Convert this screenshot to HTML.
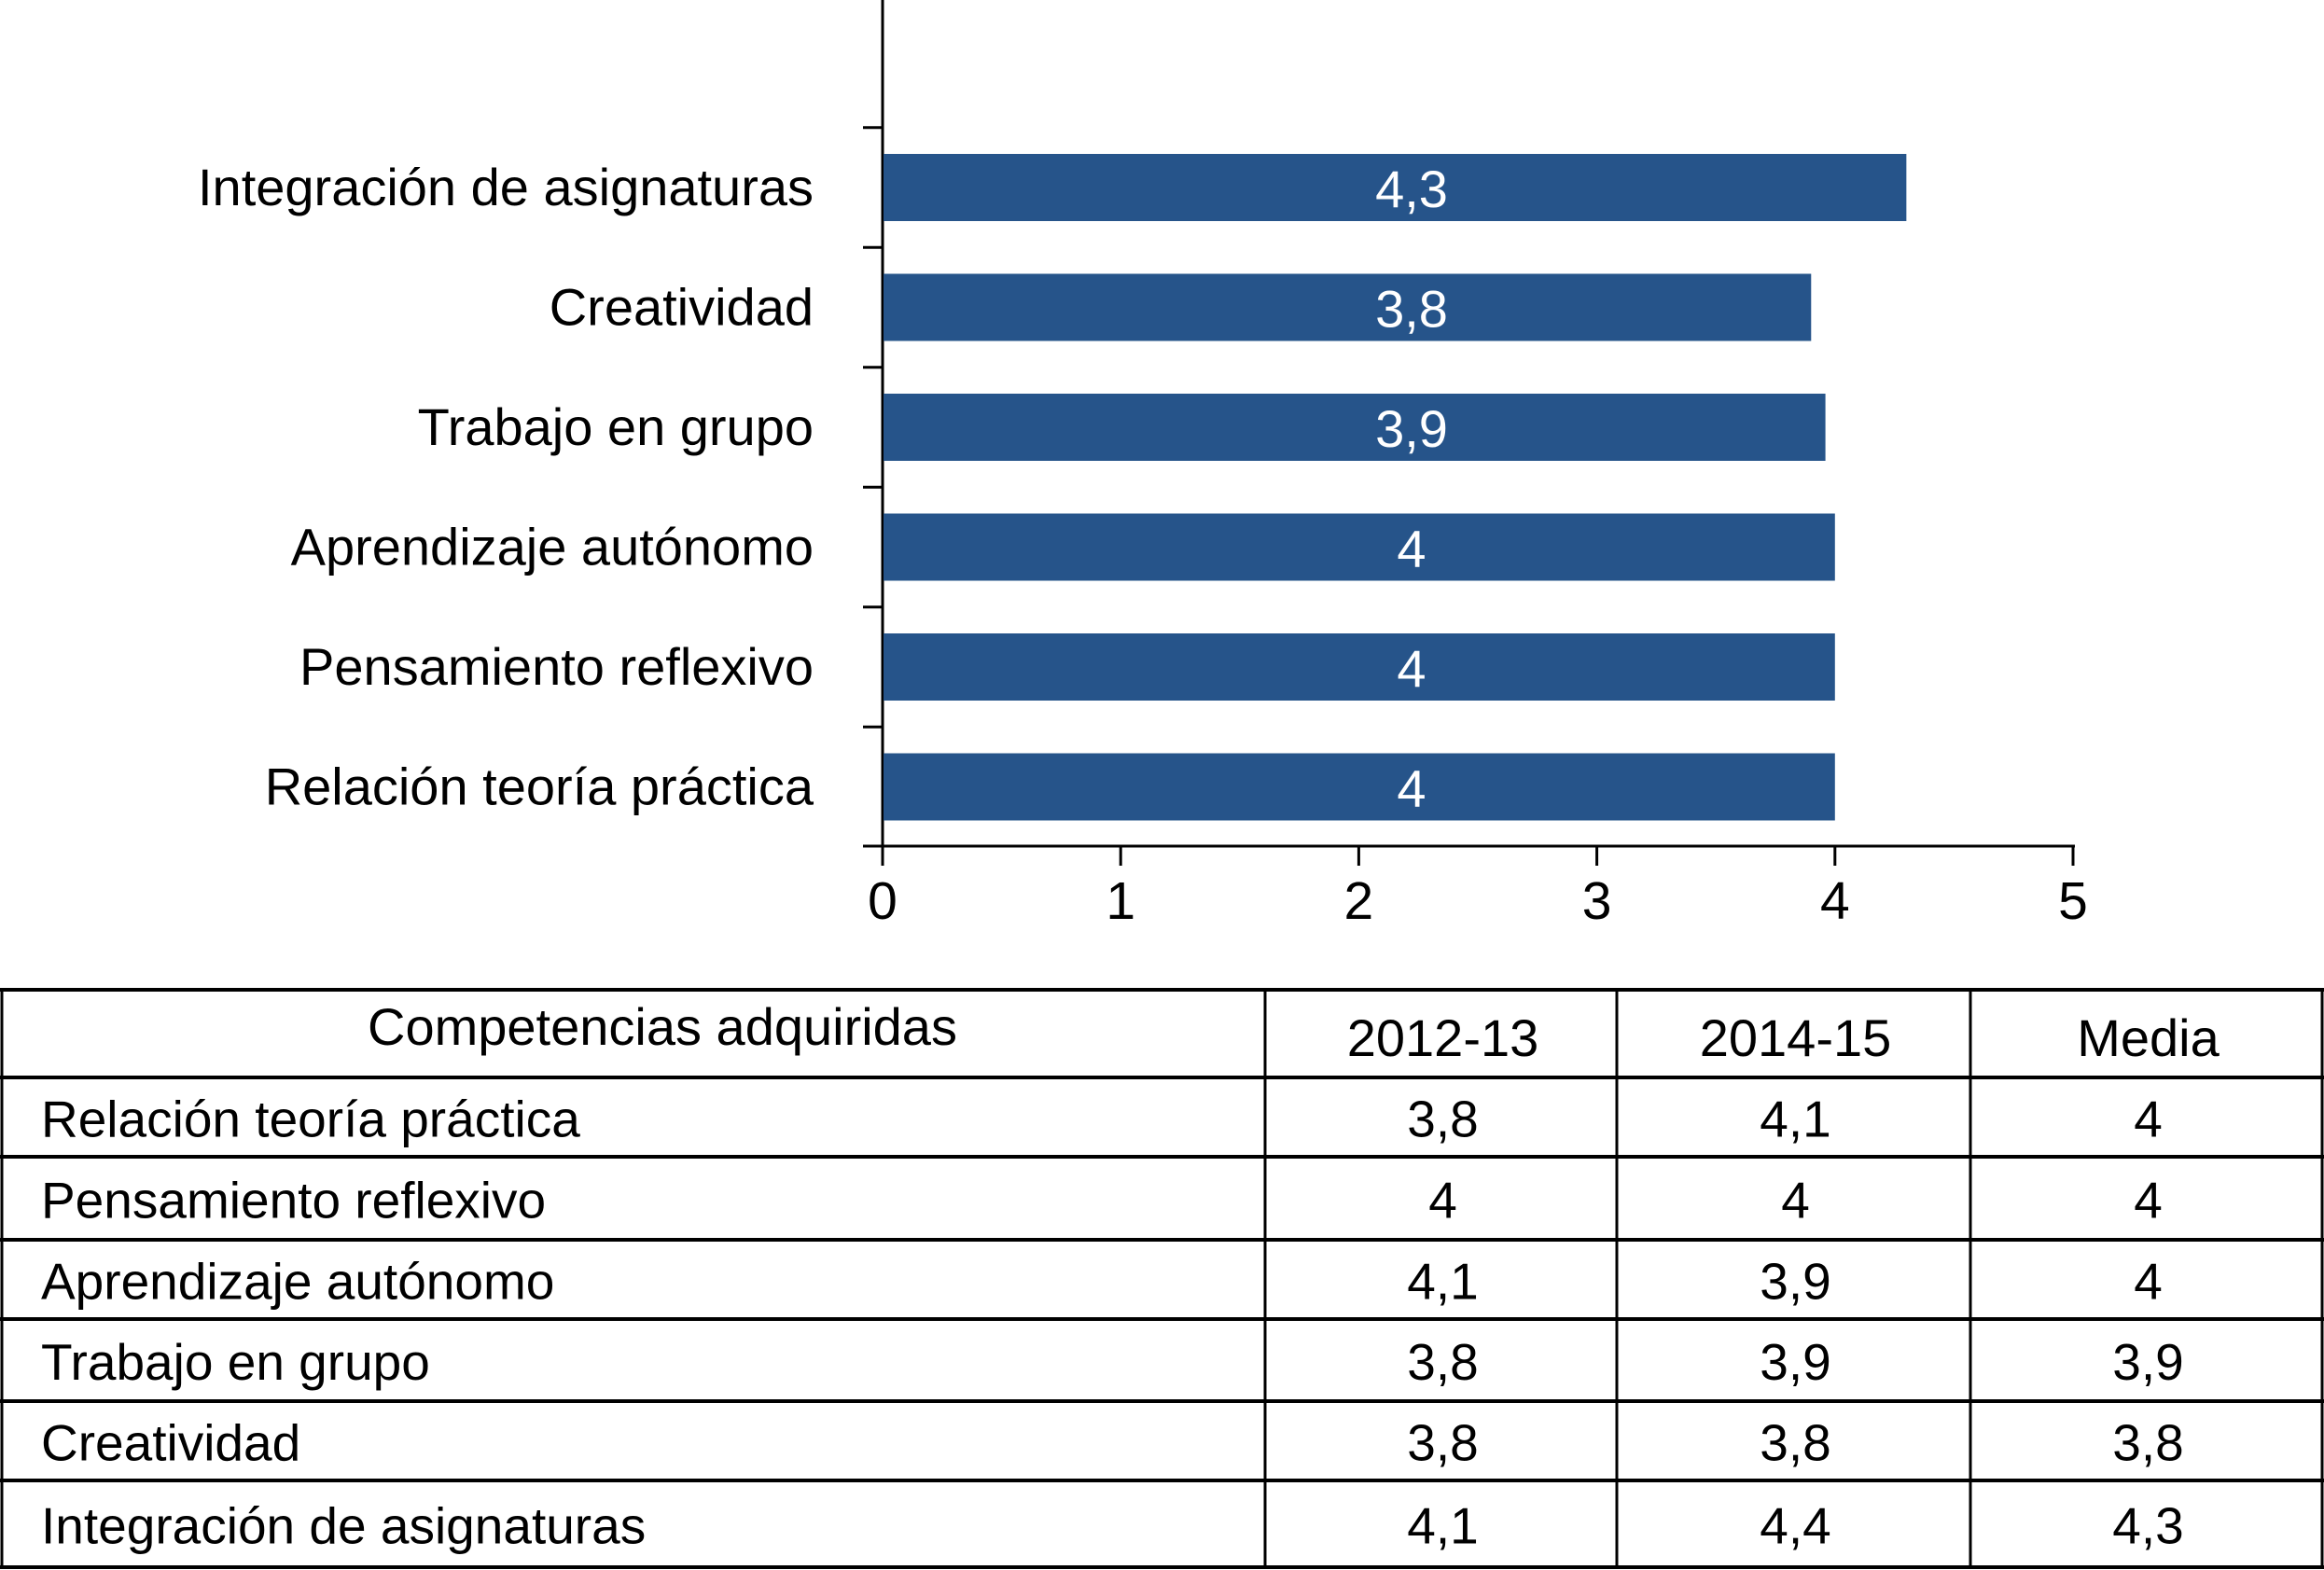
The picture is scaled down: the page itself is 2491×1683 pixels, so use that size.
<!DOCTYPE html>
<html><head><meta charset="utf-8"><style>
html,body{margin:0;padding:0;background:#fff;}
svg{display:block;font-family:"Liberation Sans",Arial,sans-serif;}
</style></head><body>
<svg id="chart" width="2491" height="1683" viewBox="0 0 2491 1683" xmlns="http://www.w3.org/2000/svg">
<g id="bars"></g>
<g id="table"></g>
</svg>
<script>
const categories = ["Integración de asignaturas","Creatividad","Trabajo en grupo","Aprendizaje autónomo","Pensamiento reflexivo","Relación teoría práctica"];
const mediaValues = [4.3, 3.9, 3.96, 4.0, 4.0, 4.0];
const valueLabels = ["4,3","3,8","3,9","4","4","4"];
const xTicks = [0,1,2,3,4,5];

const tableRows = ["Relación teoría práctica","Pensamiento reflexivo","Aprendizaje autónomo","Trabajo en grupo","Creatividad","Integración de asignaturas"];
const col2012 = ["3,8","4","4,1","3,8","3,8","4,1"];
const col2014 = ["4,1","4","3,9","3,9","3,8","4,4"];
const colMedia = ["4","4","4","3,9","3,8","4,3"];

const NS = "http://www.w3.org/2000/svg";
function mk(tag, attrs, parent, text){
  const e = document.createElementNS(NS, tag);
  for (const k in attrs) e.setAttribute(k, attrs[k]);
  if (text !== undefined) e.textContent = text;
  parent.appendChild(e);
  return e;
}
const X0 = 946, X5 = 2222;
const xScale = v => X0 + (X5 - X0) * v / 5;
const bandTop = 165, bandStep = 128.5, barH = 72;
const yCenter = i => bandTop + barH/2 + i * bandStep;

const gB = document.getElementById('bars');
let ax = mk('line',{x1:X0,y1:0,x2:X0,y2:907,stroke:'#000','stroke-width':3},gB);


ax = mk('line',{x1:925,y1:907,x2:X5+2,y2:907,stroke:'#000','stroke-width':3},gB);


for (let i = 0; i <= categories.length; i++) {
  const y = i === categories.length ? 907 : yCenter(i) - bandStep/2;
  const t = mk('line',{x1:925,y1:y,x2:X0,y2:y,stroke:'#000','stroke-width':3},gB);
  
  
}
xTicks.forEach(v => {
  const x = xScale(v);
  const t = mk('line',{x1:x,y1:907,x2:x,y2:928,stroke:'#000','stroke-width':3},gB);
  
  
  const l = mk('text',{x:x,y:985,'font-size':57,'text-anchor':'middle',fill:'#000'},gB,String(v));
  
  
});
categories.forEach((c,i) => {
  const cy = yCenter(i);
  const r = mk('rect',{x:X0+1,y:cy-barH/2,width:xScale(mediaValues[i])-X0-1,height:barH,fill:'#26548a'},gB);
  
  
  const v = mk('text',{x:1513,y:cy+21,'font-size':56,'text-anchor':'middle',fill:'#fff'},gB,valueLabels[i]);
  
  
  const l = mk('text',{x:872,y:cy+19,'font-size':56,'text-anchor':'end',fill:'#000'},gB,c);
  
  
});

const gT = document.getElementById('table');
const rowY = [1061,1155,1240,1329,1414,1502,1587,1680];
const colX = [2,1356,1733,2112,2489];
rowY.forEach(y => {
  const ln = mk('line',{x1:0,y1:y,x2:2491,y2:y,stroke:'#000','stroke-width':4},gT);
  
  
});
colX.forEach(x => {
  const ln = mk('line',{x1:x,y1:1061,x2:x,y2:1680,stroke:'#000','stroke-width':3},gT);
  
  
});
const colC = [(colX[1]+colX[2])/2,(colX[2]+colX[3])/2,(colX[3]+colX[4])/2];
let h = mk('text',{x:710,y:1120,'font-size':56,'text-anchor':'middle'},gT,'Competencias adquiridas');


["2012-13","2014-15","Media"].forEach((t,j) => {
  const e = mk('text',{x:colC[j]+2,y:1132,'font-size':56,'text-anchor':'middle'},gT,t);
  
  
});
tableRows.forEach((r,i) => {
  const by = (rowY[i+1]+rowY[i+2])/2 + 21;
  const e = mk('text',{x:44,y:by,'font-size':55},gT,r);
  
  
  [col2012[i],col2014[i],colMedia[i]].forEach((v,j) => {
    const c = mk('text',{x:colC[j]+2,y:by,'font-size':55,'text-anchor':'middle'},gT,v);
    
    
  });
});
</script>
</body></html>
